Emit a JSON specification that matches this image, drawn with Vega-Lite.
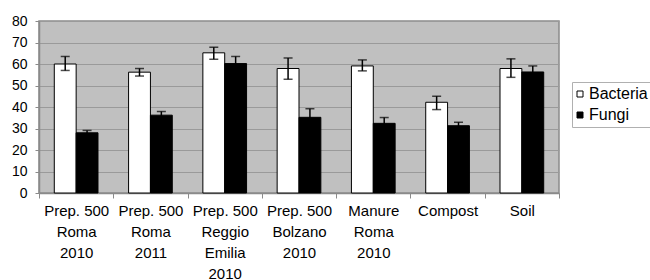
{
  "$schema": "https://vega.github.io/schema/vega-lite/v6.json",
  "width": 520,
  "height": 172,
  "autosize": {"type": "none"},
  "padding": {"left": 39, "top": 21, "right": 91, "bottom": 87},
  "background": "white",
  "config": {
    "font": "Liberation Sans",
    "view": {"fill": "#c0c0c0", "stroke": "#8a8a8a", "strokeWidth": 1.5}
  },
  "resolve": {"axis": {"y": "independent"}},
  "data": {
    "values": [
      {"cat": "Prep. 500|Roma|2010", "series": "Bacteria", "value": 60.0, "lo": 57.0, "hi": 63.5},
      {"cat": "Prep. 500|Roma|2010", "series": "Fungi", "value": 28.0, "lo": 26.9, "hi": 29.1},
      {"cat": "Prep. 500|Roma|2011", "series": "Bacteria", "value": 56.2, "lo": 54.4, "hi": 57.9},
      {"cat": "Prep. 500|Roma|2011", "series": "Fungi", "value": 36.2, "lo": 34.5, "hi": 37.9},
      {"cat": "Prep. 500|Reggio|Emilia|2010", "series": "Bacteria", "value": 65.2, "lo": 62.2, "hi": 67.8},
      {"cat": "Prep. 500|Reggio|Emilia|2010", "series": "Fungi", "value": 60.2, "lo": 56.9, "hi": 63.5},
      {"cat": "Prep. 500|Bolzano|2010", "series": "Bacteria", "value": 57.9, "lo": 52.9, "hi": 62.8},
      {"cat": "Prep. 500|Bolzano|2010", "series": "Fungi", "value": 35.2, "lo": 31.2, "hi": 39.2},
      {"cat": "Manure|Roma|2010", "series": "Bacteria", "value": 59.1, "lo": 56.8, "hi": 61.9},
      {"cat": "Manure|Roma|2010", "series": "Fungi", "value": 32.4, "lo": 29.7, "hi": 35.1},
      {"cat": "Compost", "series": "Bacteria", "value": 42.2, "lo": 38.8, "hi": 45.0},
      {"cat": "Compost", "series": "Fungi", "value": 31.3, "lo": 29.7, "hi": 32.9},
      {"cat": "Soil", "series": "Bacteria", "value": 57.9, "lo": 53.8, "hi": 62.4},
      {"cat": "Soil", "series": "Fungi", "value": 56.3, "lo": 53.5, "hi": 59.1}
    ]
  },
  "encoding": {
    "x": {
      "field": "cat",
      "type": "nominal",
      "sort": null,
      "scale": {"paddingInner": 0, "paddingOuter": 0},
      "axis": {
        "title": null,
        "labelAngle": 0,
        "labelExpr": "datum.value ? split(datum.value, '|') : ''",
        "labelFont": "Liberation Sans",
        "labelFontSize": 15,
        "labelLineHeight": 21,
        "labelColor": "black",
        "labelPadding": 5,
        "labelBaseline": "top",
        "tickBand": "extent",
        "tickSize": 5,
        "tickColor": "#8a8a8a",
        "domainColor": "#8a8a8a",
        "domainWidth": 1.5,
        "labelOverlap": false,
        "labelLimit": 0
      }
    },
    "xOffset": {
      "field": "series",
      "type": "nominal",
      "sort": ["Bacteria", "Fungi"],
      "scale": {"paddingInner": 0, "paddingOuter": 0.7}
    }
  },
  "layer": [
    {
      "mark": {"type": "bar", "stroke": "black", "strokeWidth": 1},
      "encoding": {
        "y": {
          "field": "value",
          "type": "quantitative",
          "scale": {"domain": [0, 80], "nice": false},
          "axis": {
            "title": null,
            "values": [0, 10, 20, 30, 40, 50, 60, 70, 80],
            "labelOverlap": false,
            "labelFont": "Liberation Sans",
            "labelFontSize": 14,
            "labelColor": "black",
            "labelPadding": 8,
            "tickSize": 4,
            "tickColor": "#8a8a8a",
            "domainColor": "#8a8a8a",
            "domainWidth": 1.5,
            "grid": true,
            "gridColor": "#9a9a9a",
            "gridWidth": 1
          }
        },
        "color": {
          "field": "series",
          "type": "nominal",
          "scale": {"domain": ["Bacteria", "Fungi"], "range": ["white", "black"]},
          "legend": {
            "title": null,
            "orient": "none",
            "legendX": 533,
            "legendY": 61,
            "symbolType": "square",
            "symbolSize": 36,
            "symbolStrokeColor": "black",
            "symbolStrokeWidth": 1,
            "symbolOpacity": 1,
            "symbolOffset": -4,
            "labelFont": "Liberation Sans",
            "labelFontSize": 16,
            "labelColor": "black",
            "labelOffset": 1,
            "rowPadding": 5,
            "padding": 4,
            "strokeColor": "#b0b0b0",
            "fillColor": "white"
          }
        }
      }
    },
    {
      "mark": {"type": "rule", "color": "black", "strokeWidth": 1.5},
      "encoding": {
        "y": {"field": "lo", "type": "quantitative", "axis": null},
        "y2": {"field": "hi"}
      }
    },
    {
      "mark": {"type": "tick", "color": "black", "thickness": 1.5, "size": 9, "orient": "horizontal"},
      "encoding": {"y": {"field": "lo", "type": "quantitative", "axis": null}}
    },
    {
      "mark": {"type": "tick", "color": "black", "thickness": 1.5, "size": 9, "orient": "horizontal"},
      "encoding": {"y": {"field": "hi", "type": "quantitative", "axis": null}}
    }
  ]
}
